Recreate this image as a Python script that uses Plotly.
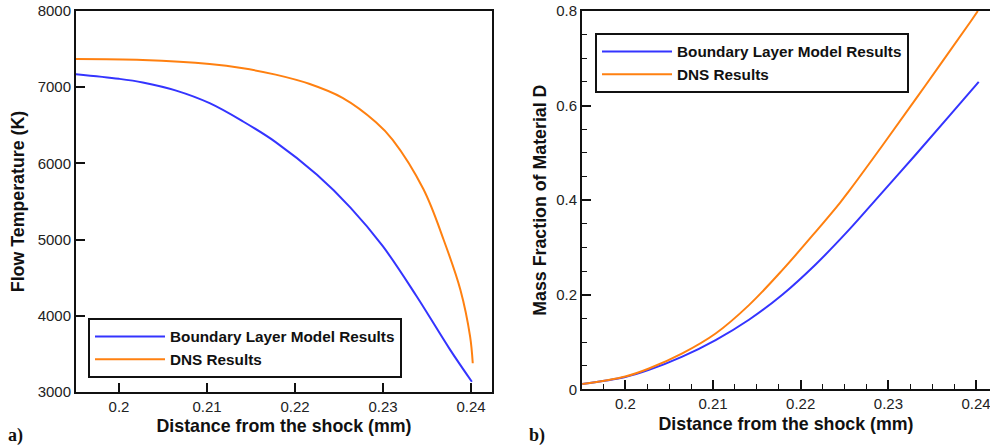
import plotly.graph_objects as go

# ---------------- data ----------------
# Panel a) Flow temperature (K) vs distance from the shock (mm)
temp_bl_x = [0.1951, 0.2000, 0.2027, 0.2065, 0.2103, 0.2141, 0.2178, 0.2225, 0.2263, 0.2300, 0.2338, 0.2376, 0.2401]
temp_bl_y = [7170, 7110, 7062, 6955, 6790, 6550, 6280, 5850, 5420, 4910, 4260, 3560, 3135]

temp_dns_x = [0.1951, 0.2027, 0.2103, 0.2141, 0.2178, 0.2216, 0.2254, 0.2292, 0.2311, 0.2346, 0.2369, 0.2388, 0.2399, 0.2402]
temp_dns_y = [7370, 7357, 7304, 7248, 7165, 7045, 6860, 6540, 6310, 5660, 4995, 4339, 3726, 3377]

# Panel b) Mass fraction of material D vs distance from the shock (mm)
mf_bl_x = [0.1951, 0.2000, 0.2027, 0.2065, 0.2103, 0.2141, 0.2179, 0.2217, 0.2255, 0.2289, 0.2331, 0.2369, 0.2403]
mf_bl_y = [0.011, 0.026, 0.041, 0.069, 0.104, 0.147, 0.200, 0.264, 0.337, 0.408, 0.496, 0.577, 0.650]

mf_dns_x = [0.1951, 0.2000, 0.2027, 0.2065, 0.2103, 0.2141, 0.2179, 0.2217, 0.2245, 0.2255, 0.2293, 0.2342, 0.2395, 0.2402]
mf_dns_y = [0.011, 0.027, 0.044, 0.076, 0.118, 0.178, 0.252, 0.333, 0.395, 0.419, 0.515, 0.642, 0.781, 0.800]

series_names = ["Boundary Layer Model Results", "DNS Results"]
x_title = "Distance from the shock (mm)"
y_title_a = "Flow Temperature (K)"
y_title_b = "Mass Fraction of Material D"
panel_labels = ["a)", "b)"]
x_ticks = [0.2, 0.21, 0.22, 0.23, 0.24]
x_tick_text = ["0.2", "0.21", "0.22", "0.23", "0.24"]
yb_ticks = [0, 0.2, 0.4, 0.6, 0.8]
yb_tick_text = ["0", "0.2", "0.4", "0.6", "0.8"]

# ---------------- style ----------------
BLUE = "#3434ff"
ORANGE = "#ff8010"
AX = "#111111"
FONT = "Liberation Sans, Arial, Helvetica, sans-serif"

W, H = 990, 448

def px_x(p):
    return p / W

def px_y(p):
    return 1 - p / H

fig = go.Figure()

line_kw = dict(width=2, shape="spline", smoothing=1.0)
fig.add_trace(go.Scatter(x=temp_bl_x, y=temp_bl_y, mode="lines", name=series_names[0],
                         line=dict(color=BLUE, **line_kw), xaxis="x", yaxis="y", legend="legend"))
fig.add_trace(go.Scatter(x=temp_dns_x, y=temp_dns_y, mode="lines", name=series_names[1],
                         line=dict(color=ORANGE, **line_kw), xaxis="x", yaxis="y", legend="legend"))
fig.add_trace(go.Scatter(x=mf_bl_x, y=mf_bl_y, mode="lines", name=series_names[0],
                         line=dict(color=BLUE, **line_kw), xaxis="x2", yaxis="y2", legend="legend2"))
fig.add_trace(go.Scatter(x=mf_dns_x, y=mf_dns_y, mode="lines", name=series_names[1],
                         line=dict(color=ORANGE, **line_kw), xaxis="x2", yaxis="y2", legend="legend2"))

tickfont = dict(family=FONT, size=15, color="#222222")
titlefont = dict(family=FONT, size=17.8, color="#111111", weight="bold")

common = dict(showline=True, linecolor=AX, linewidth=2, ticks="inside", ticklen=9,
              tickwidth=2, tickcolor=AX, tickfont=tickfont, showgrid=False,
              zeroline=False, automargin=False, ticklabeloverflow="allow")

legend_common = dict(font=dict(family=FONT, size=15.3, color="#111111", weight="bold"),
                     bgcolor="white", bordercolor=AX, borderwidth=2,
                     xanchor="left", yanchor="top", itemwidth=70, tracegroupgap=0)

fig.update_layout(
    width=W, height=H,
    margin=dict(l=0, r=0, t=0, b=0),
    paper_bgcolor="white", plot_bgcolor="white",
    showlegend=True,
    xaxis=dict(domain=[px_x(76), px_x(492)], range=[0.195114, 0.242386], anchor="y",
               tickvals=x_ticks, ticktext=x_tick_text,
               mirror=True, title=dict(text=x_title, font=titlefont, standoff=6), **common),
    yaxis=dict(domain=[px_y(392), px_y(11)], range=[3000, 8000], anchor="x", dtick=1000,
               mirror=True, title=dict(text=y_title_a, font=titlefont, standoff=8), **common),
    xaxis2=dict(domain=[px_x(582), 1.0], range=[0.195063, 0.241585], anchor="y2",
                tickvals=x_ticks, ticktext=x_tick_text,
                mirror=True, minor=dict(dtick=0.0025, tick0=0.2, ticks="inside", ticklen=5, tickwidth=1, tickcolor=AX),
                title=dict(text=x_title, font=titlefont, standoff=6), **common),
    yaxis2=dict(domain=[px_y(389.3), px_y(11)], range=[0, 0.8], anchor="x2",
                tickvals=yb_ticks, ticktext=yb_tick_text,
                mirror=False, minor=dict(dtick=0.05, tick0=0, ticks="inside", ticklen=5, tickwidth=1, tickcolor=AX),
                title=dict(text=y_title_b, font=titlefont, standoff=5), **common),
    legend=dict(x=px_x(88), y=px_y(318), **legend_common),
    legend2=dict(x=px_x(595), y=px_y(33), **legend_common),
)

label_font = dict(family="Liberation Serif, Times New Roman, serif", size=18, color="#111111", weight="bold")
fig.add_annotation(text=panel_labels[0], x=px_x(6), y=px_y(435), xref="paper", yref="paper",
                   xanchor="left", yanchor="middle", showarrow=False, font=label_font)
fig.add_annotation(text=panel_labels[1], x=px_x(527), y=px_y(435), xref="paper", yref="paper",
                   xanchor="left", yanchor="middle", showarrow=False, font=label_font)

fig.write_html("out.html")
